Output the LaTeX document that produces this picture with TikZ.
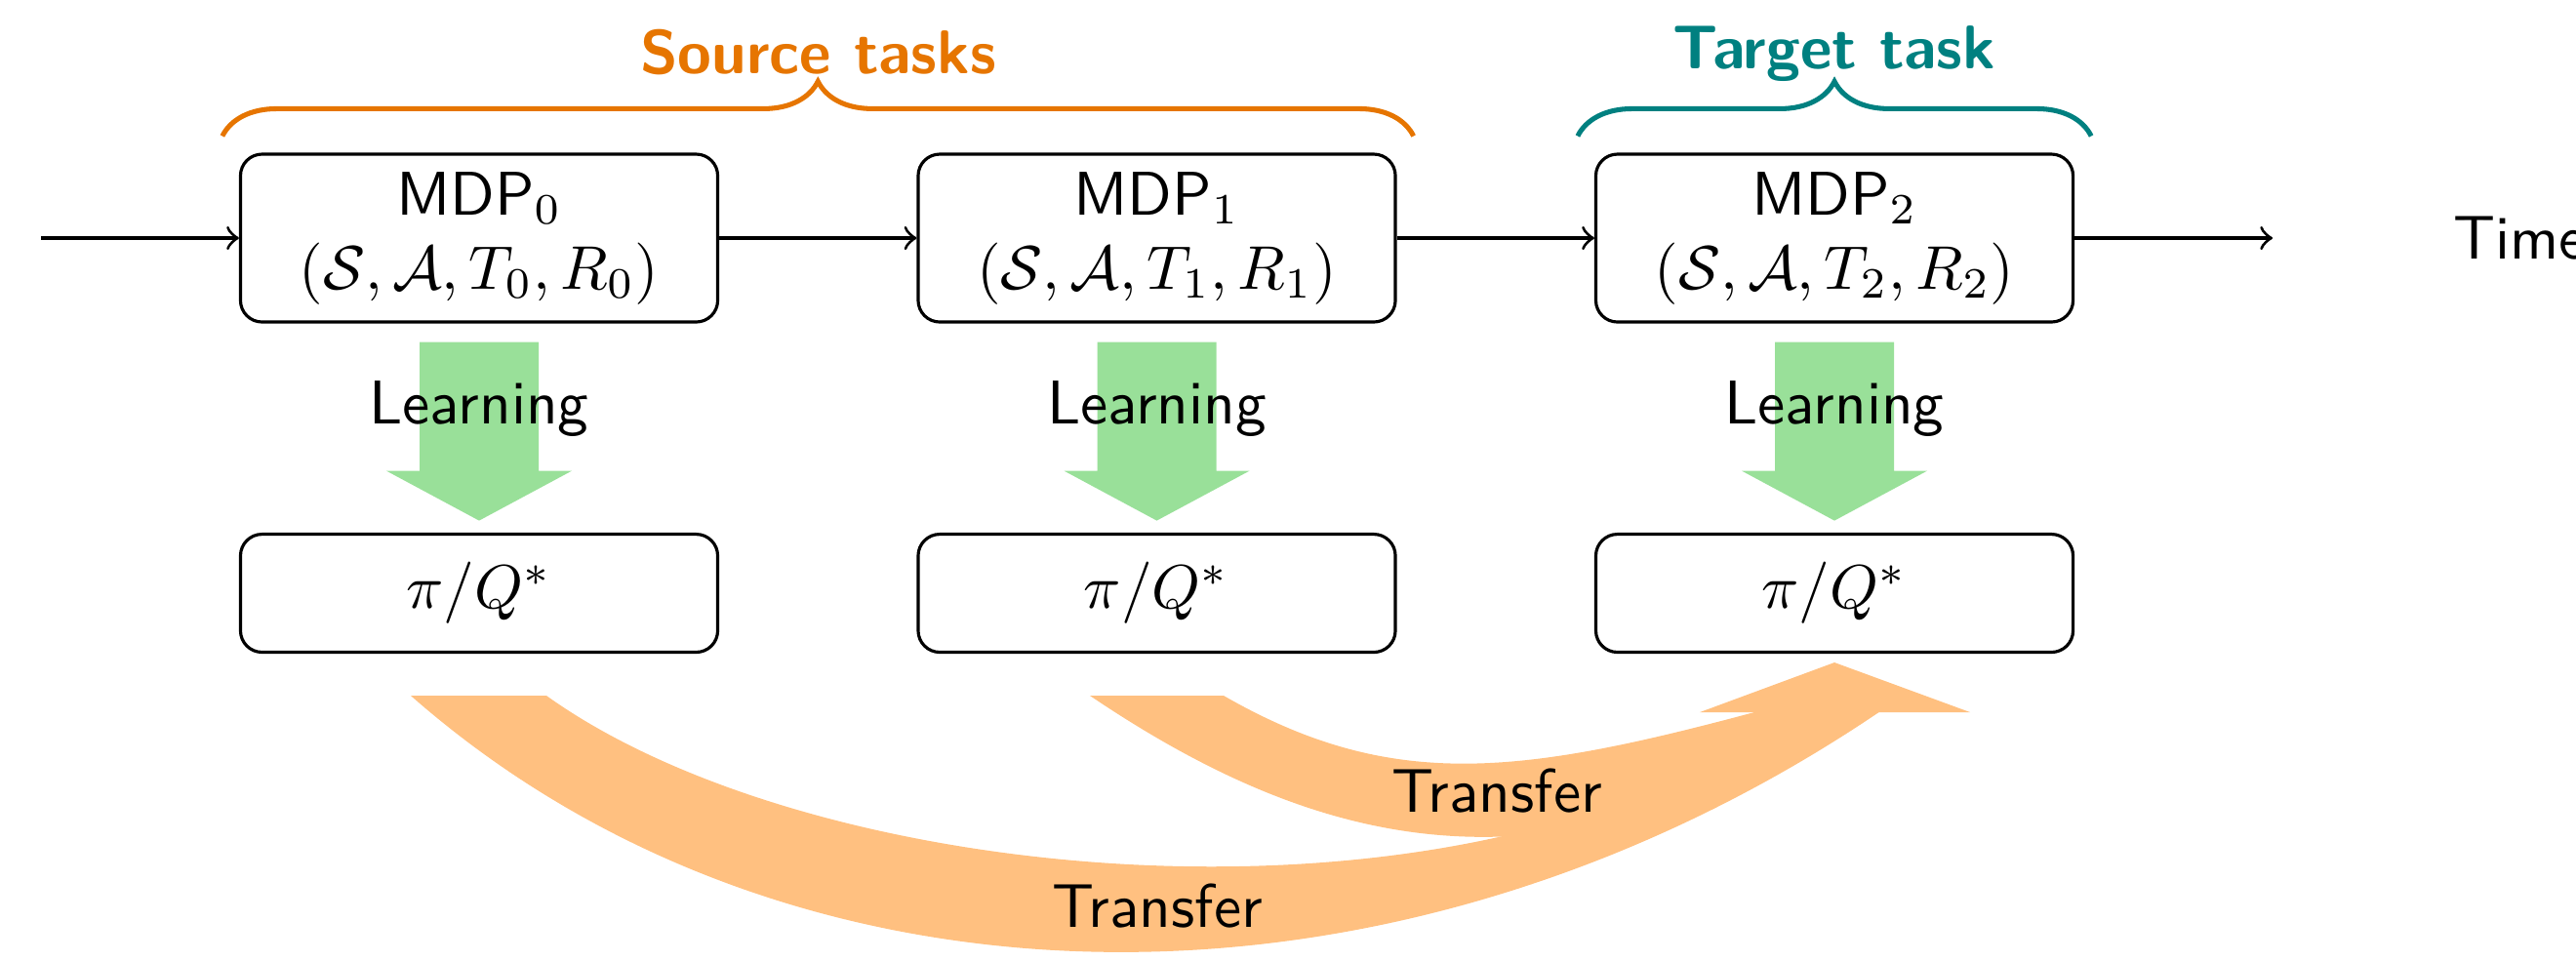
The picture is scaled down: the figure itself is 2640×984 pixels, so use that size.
\documentclass[tikz,border=0pt]{standalone}
\usetikzlibrary{decorations.pathreplacing,calc}
\definecolor{learngreen}{RGB}{153,224,153}
\definecolor{transorange}{RGB}{255,192,128}
\definecolor{srcorange}{RGB}{230,117,0}
\definecolor{tgtteal}{RGB}{0,128,128}
\begin{document}
\begin{tikzpicture}[x=0.0555556mm, y=-0.0555556mm, font=\sffamily,
  mdpbox/.style={draw, line width=0.5pt, rounded corners=3.5pt, minimum width=27.17mm, minimum height=9.556mm, inner sep=0pt, align=center},
  polbox/.style={draw, line width=0.5pt, rounded corners=3.5pt, minimum width=27.17mm, minimum height=6.72mm, inner sep=0pt},
  flow/.style={->, line width=0.5pt},
  learnarrow/.style={fill=learngreen},
  transband/.style={fill=transorange},
  bracesty/.style={decorate, decoration={brace, amplitude=8.85pt}, line width=0.8pt},
  grouplabel/.style={font=\sffamily\bfseries, anchor=base, inner sep=0pt},
  plainlabel/.style={anchor=base, inner sep=0pt}
]
\useasboundingbox (0,0) rectangle (2640,984);

% transfer bands
\fill[transband] (421,713) .. controls (811,1056) and (1432,1066) .. (1930,727) -- (1840,727) .. controls (1520,970) and (843.5,916) .. (560,713) -- cycle;
\fill[transband] (1117,713) .. controls (1391,898) and (1614,909) .. (1925,727) -- (1809,727) .. controls (1561,794) and (1428,813) .. (1254,713) -- cycle;
\fill[transband] (1742,730) -- (1880,679) -- (2019,730) -- cycle;
\node[plainlabel] (tr1) at (1534,832) {Transfer};
\node[plainlabel] (tr0) at (1186,950) {Transfer};

% MDP boxes
\node[mdpbox] (m0) at (491,244) {MDP$_0$\\$(\mathcal{S},\mathcal{A},T_0,R_0)$};
\node[mdpbox] (m1) at (1185.5,244) {MDP$_1$\\$(\mathcal{S},\mathcal{A},T_1,R_1)$};
\node[mdpbox] (m2) at (1880,244) {MDP$_2$\\$(\mathcal{S},\mathcal{A},T_2,R_2)$};

% policy boxes
\node[polbox] (p0) at (491,608) {$\pi/Q^*$};
\node[polbox] (p1) at (1185.5,608) {$\pi/Q^*$};
\node[polbox] (p2) at (1880,608) {$\pi/Q^*$};

% time line
\coordinate (tin) at (42,244);
\coordinate (tout) at (2329,244);
\node[anchor=west, inner sep=0pt] (time) at (2513,244) {Time};
\draw[flow] (tin) -- (m0);
\draw[flow] (m0) -- (m1);
\draw[flow] (m1) -- (m2);
\draw[flow] (m2) -- (tout);

% learning arrows
\foreach \i in {0,1,2}{
  \begin{scope}[shift={(m\i.south)}]
    \fill[learnarrow] (-61,19) -- (61,19) -- (61,151) -- (95,151) -- (0,202) -- (-95,151) -- (-61,151) -- cycle;
    \node[plainlabel] (l\i) at (0,103) {Learning};
  \end{scope}
}

% braces
\draw[bracesty, srcorange] ($(m0.north west)+(-17,-17)$) -- ($(m1.north east)+(17,-17)$);
\node[grouplabel, text=srcorange] (src) at (838.5,75) {Source tasks};
\draw[bracesty, tgtteal] ($(m2.north west)+(-17,-17)$) -- ($(m2.north east)+(17,-17)$);
\node[grouplabel, text=tgtteal] (tgt) at (1880,70) {Target task};
\end{tikzpicture}
\end{document}
